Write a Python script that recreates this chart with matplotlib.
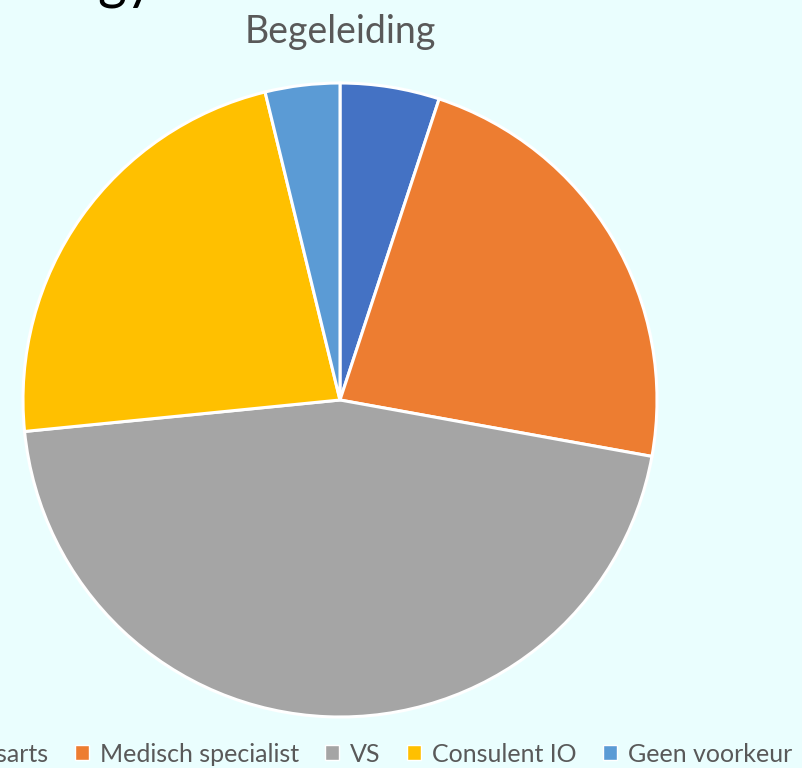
import matplotlib.pyplot as plt
from matplotlib.patches import Patch

# Begeleiding - voorkeur
labels = ['Bedrijfsarts', 'Medisch specialist', 'VS', 'Consulent IO', 'Geen voorkeur']
values = [4, 18, 36, 18, 3]
colors = ['#4472C4', '#ED7D31', '#A5A5A5', '#FFC000', '#5B9BD5']

bg = '#EAFEFE'
W, H = 802, 768

fig = plt.figure(figsize=(W / 100, H / 100), dpi=100, facecolor=bg)

# pie axes: center (340, 400) px, radius 317 px
cx, cy, r = 340, 400, 317
ax = fig.add_axes([(cx - r) / W, (H - cy - r) / H, 2 * r / W, 2 * r / H])
ax.set_facecolor(bg)
ax.pie(values, colors=colors, startangle=90, counterclock=False, radius=1,
       wedgeprops=dict(edgecolor='white', linewidth=2.2))
ax.set_xlim(-1.0, 1.0)
ax.set_ylim(-1.0, 1.0)
ax.axis('off')

# title
fig.text(cx / W, 1 - 32 / H, 'Begeleiding', ha='center', va='center',
         fontsize=27, color='#595959', family='Lato')

# fragment of slide title cut off at the top
fig.text(97 / W, 1 + 3 / H, 'gy', ha='left', va='baseline',
         fontsize=40, color='black', family='Lato')

handles = [Patch(facecolor=c, edgecolor='white', linewidth=1) for c in colors]
leg = fig.legend(handles, labels, loc='center right', bbox_to_anchor=(792 / W, 14 / H),
                 ncol=5, frameon=False, handlelength=0.55, borderaxespad=0,
                 borderpad=0, handleheight=0.55, handletextpad=0.45,
                 columnspacing=1.05, prop=dict(family='Lato', size=18))
for t in leg.get_texts():
    t.set_color('#595959')

fig.savefig('out.png', dpi=100, facecolor=bg)
